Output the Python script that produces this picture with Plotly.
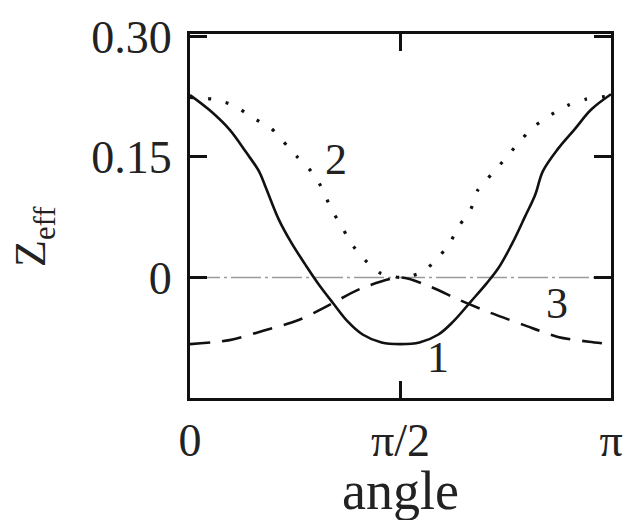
import numpy as np
import plotly.graph_objects as go

# Angles are stored as fractions of pi; Z_eff values for each curve.
solid_frac = [0.0, 0.047, 0.094, 0.133, 0.164, 0.180, 0.211, 0.241, 0.274, 0.305,
              0.340, 0.375, 0.410, 0.455, 0.5, 0.545, 0.590, 0.625, 0.667, 0.705,
              0.733, 0.766, 0.796, 0.820, 0.838, 0.874, 0.913, 0.953, 1.0]
solid_z = [0.227, 0.208, 0.184, 0.156, 0.132, 0.112, 0.072, 0.043, 0.016, -0.008,
           -0.032, -0.055, -0.071, -0.081, -0.083, -0.081, -0.071, -0.055, -0.030, -0.007,
           0.012, 0.043, 0.076, 0.103, 0.132, 0.160, 0.184, 0.209, 0.228]

dot_frac = [0.0, 0.054, 0.105, 0.148, 0.192, 0.222, 0.253, 0.288, 0.316, 0.335,
            0.358, 0.382, 0.415, 0.450, 0.5, 0.550, 0.585, 0.616, 0.639, 0.667,
            0.684, 0.719, 0.749, 0.778, 0.813, 0.850, 0.897, 0.941, 1.0]
dot_z = [0.224, 0.222, 0.214, 0.199, 0.186, 0.169, 0.151, 0.132, 0.109, 0.085,
         0.066, 0.043, 0.022, 0.006, 0.0, 0.006, 0.022, 0.042, 0.064, 0.085,
         0.109, 0.130, 0.148, 0.166, 0.186, 0.200, 0.214, 0.222, 0.226]

dash_frac = [0.0, 0.094, 0.176, 0.258, 0.328, 0.405, 0.5,
             0.569, 0.640, 0.714, 0.792, 0.874, 0.948, 1.0]
dash_z = [-0.083, -0.078, -0.066, -0.053, -0.035, -0.014, 0.0,
          -0.011, -0.028, -0.044, -0.059, -0.074, -0.080, -0.083]

curve_labels = ["1", "2", "3"]
label_frac = [0.590, 0.347, 0.871]
label_z = [-0.100, 0.147, -0.032]

x_tick_frac = [0.0, 0.5, 1.0]
x_tick_text = ["0", "π/2", "π"]
y_tick_vals = [0.0, 0.15, 0.30]
y_tick_text = ["0", "0.15", "0.30"]

SERIF = "Liberation Serif, Times New Roman, serif"
INK = "#111111"
TEXT = "#222222"

fig = go.Figure()

# zero reference line
fig.add_trace(go.Scatter(
    x=[0, np.pi], y=[0, 0], mode="lines",
    line=dict(color="#9a9a9a", width=1.5, dash="30px,4px,3px,4px"),
    hoverinfo="skip", showlegend=False))

fig.add_trace(go.Scatter(
    x=np.array(solid_frac) * np.pi, y=solid_z, mode="lines",
    line=dict(color=INK, width=2.6, shape="spline", smoothing=1.0),
    showlegend=False))

fig.add_trace(go.Scatter(
    x=np.array(dot_frac) * np.pi, y=dot_z, mode="lines",
    line=dict(color=INK, width=3.2, dash="3px,15px", shape="spline", smoothing=0.6),
    showlegend=False))

fig.add_trace(go.Scatter(
    x=np.array(dash_frac) * np.pi, y=dash_z, mode="lines",
    line=dict(color=INK, width=2.6, dash="20px,12px", shape="spline", smoothing=0.8),
    showlegend=False))

for txt, fx, zy in zip(curve_labels, label_frac, label_z):
    fig.add_annotation(x=fx * np.pi, y=zy, text=txt, showarrow=False,
                       font=dict(family=SERIF, size=44, color=TEXT))

# axis titles
fig.add_annotation(xref="paper", yref="paper", x=-0.37, y=0.443,
                   text="Z<sub>eff</sub>", textangle=-90, showarrow=False,
                   xanchor="center", yanchor="middle", borderpad=0,
                   font=dict(family=SERIF, size=44, color=TEXT))
fig.add_annotation(xref="paper", yref="paper", x=0.5, y=-0.255,
                   text="angle", showarrow=False,
                   xanchor="center", yanchor="middle", borderpad=0,
                   font=dict(family=SERIF, size=54, color=TEXT))

axis_common = dict(
    showgrid=False, zeroline=False, showline=True, mirror="ticks",
    linecolor=INK, linewidth=3, ticks="inside", ticklen=17, tickwidth=3,
    tickcolor=INK, tickfont=dict(family=SERIF, size=46, color=TEXT),
)

fig.update_xaxes(range=[0, np.pi], tickvals=np.array(x_tick_frac) * np.pi,
                 ticktext=x_tick_text, ticklabelstandoff=0, **axis_common)
fig.update_yaxes(range=[-0.15, 0.303], tickvals=y_tick_vals,
                 ticktext=y_tick_text, ticklabelstandoff=6, **axis_common)

fig.update_layout(
    width=635, height=520,
    margin=dict(l=190, r=18, t=23, b=122),
    paper_bgcolor="white", plot_bgcolor="white",
)

fig.write_html("out.html")
